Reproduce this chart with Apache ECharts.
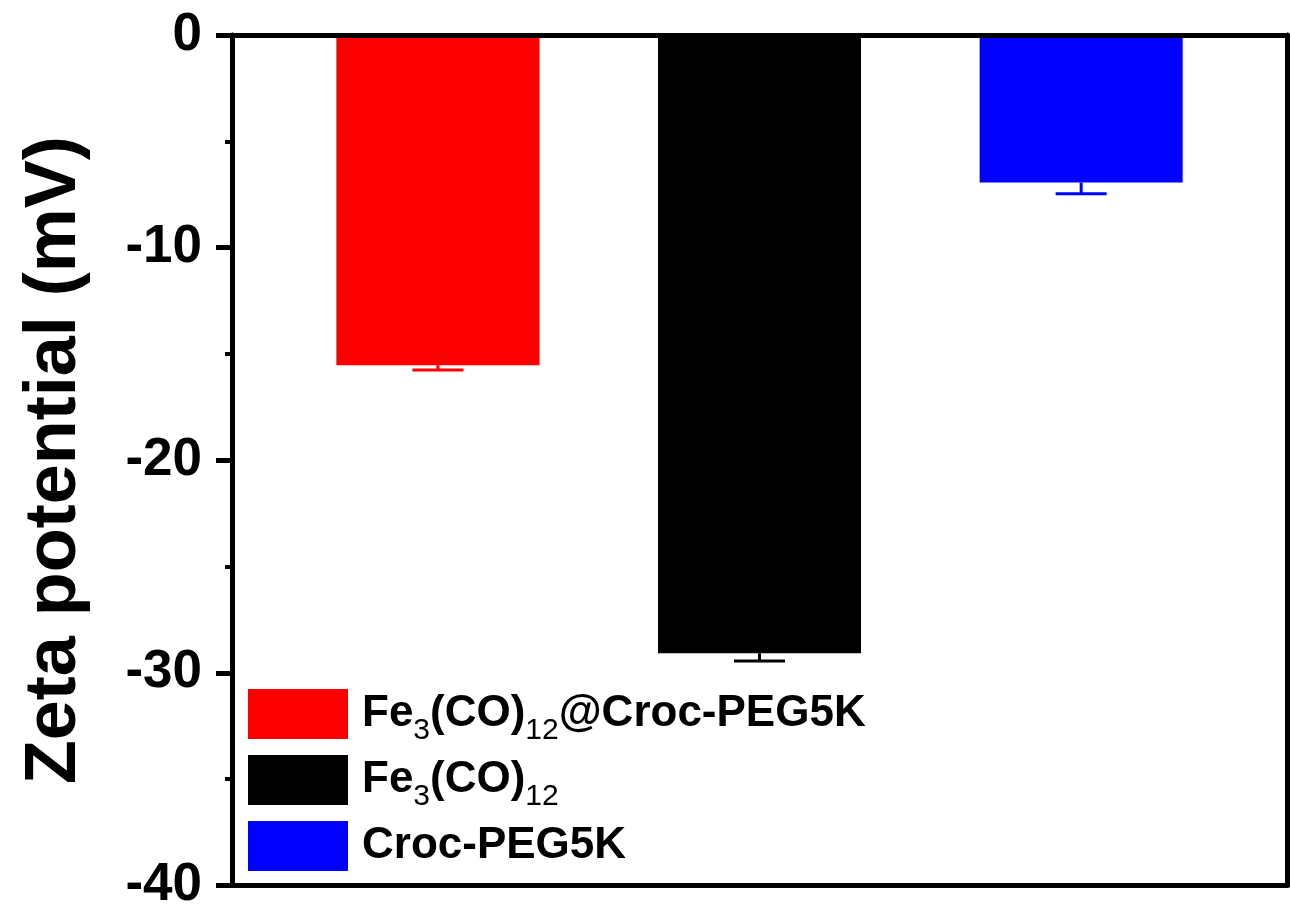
<!DOCTYPE html>
<html><head><meta charset="utf-8">
<script src="https://cdn.jsdelivr.net/npm/echarts@6/dist/echarts.min.js"></script>
<style>html,body{margin:0;padding:0;background:#fff}#c{width:1290px;height:912px}</style>
</head><body><div id="c"></div>
<script>
const categories = ['Fe3(CO)12@Croc-PEG5K', 'Fe3(CO)12', 'Croc-PEG5K'];
const positions = [1, 2, 3];
const values = [-15.53, -29.08, -6.94];
const errors = [0.22, 0.36, 0.53];
const colors = ['#ff0000', '#000000', '#0000ff'];
const yTicks = [-40, -30, -20, -10, 0];
const yName = 'Zeta potential (mV)';

const FONT = 'Liberation Sans';
const chart = echarts.init(document.getElementById('c'), null, {renderer: 'canvas'});

function richName(name) {
  // subscript digits following "e" (Fe) or ")" in chemical formulas
  let out = '{g| }';
  const re = /([e\)])(\d+)/g;
  let last = 0, m;
  while ((m = re.exec(name)) !== null) {
    const end = m.index + 1;
    out += '{m|' + name.slice(last, end) + '}{s|' + m[2] + '}';
    last = end + m[2].length;
  }
  if (last < name.length) out += '{m|' + name.slice(last) + '}';
  return out;
}

const barSeries = categories.map((name, i) => ({
  type: 'bar',
  name: name,
  data: [[positions[i], values[i]]],
  barWidth: 203,
  barGap: '-100%',
  itemStyle: {color: colors[i]},
  z: 2
}));

const errSeries = {
  type: 'custom',
  silent: true,
  z: 3,
  data: positions.map((p, i) => [p, values[i], errors[i], i]),
  encode: {x: 0, y: 1},
  renderItem: function (params, api) {
    const x = api.value(0), v = api.value(1), e = api.value(2), idx = api.value(3);
    const top = api.coord([x, v]);
    const bot = api.coord([x, v - e]);
    const half = 25.5;
    const c = colors[idx];
    return {
      type: 'group',
      children: [
        {type: 'line', shape: {x1: top[0], y1: top[1], x2: bot[0], y2: bot[1]}, style: {stroke: c, lineWidth: 3}},
        {type: 'line', shape: {x1: bot[0] - half, y1: bot[1], x2: bot[0] + half, y2: bot[1]}, style: {stroke: c, lineWidth: 3}}
      ]
    };
  }
};

const frameAxisBase = {
  type: 'value', min: 0.36, max: 3.64,
  axisLine: {show: true, onZero: false, lineStyle: {color: '#000', width: 5}},
  axisTick: {show: false}, axisLabel: {show: false}, splitLine: {show: false}, z: 5
};

const option = {
  backgroundColor: '#ffffff',
  animation: false,
  grid: {left: 232, right: 3, top: 35, bottom: 25, containLabel: false},
  xAxis: [
    Object.assign({}, frameAxisBase, {position: 'bottom'}),
    Object.assign({}, frameAxisBase, {position: 'top'})
  ],
  yAxis: [
    {
      type: 'value', position: 'left',
      min: yTicks[0], max: yTicks[yTicks.length - 1], interval: yTicks[1] - yTicks[0],
      name: yName, nameLocation: 'middle', nameGap: 141,
      nameTextStyle: {fontFamily: FONT, fontWeight: 'bold', fontSize: 72, color: '#000'},
      axisLine: {show: true, onZero: false, lineStyle: {color: '#000', width: 5}},
      axisTick: {show: true, inside: false, length: 16, lineStyle: {color: '#000', width: 5}},
      minorTick: {show: true, splitNumber: 2, length: 7, lineStyle: {color: '#000', width: 4}},
      axisLabel: {fontFamily: FONT, fontWeight: 'bold', fontSize: 53, color: '#000', margin: 30},
      splitLine: {show: false}, minorSplitLine: {show: false},
      z: 5
    },
    {
      type: 'value', position: 'right',
      min: yTicks[0], max: yTicks[yTicks.length - 1], interval: yTicks[1] - yTicks[0],
      axisLine: {show: true, onZero: false, lineStyle: {color: '#000', width: 5}},
      axisTick: {show: false}, axisLabel: {show: false}, splitLine: {show: false}, z: 5
    }
  ],
  legend: {
    orient: 'vertical', left: 243, top: 677,
    itemWidth: 100, itemHeight: 50, itemGap: 2,
    icon: 'rect', selectedMode: false,
    data: categories,
    formatter: richName,
    textStyle: {
      color: '#000', fontFamily: FONT, fontWeight: 'bold', fontSize: 44,
      rich: {
        g: {width: 9, fontSize: 30, lineHeight: 10, padding: [34, 0, 0, 0]},
        m: {fontFamily: FONT, fontWeight: 'bold', fontSize: 44, lineHeight: 44, color: '#000'},
        s: {fontFamily: FONT, fontWeight: 'normal', fontSize: 30, lineHeight: 10, padding: [34, 0, 0, 0], color: '#000'}
      }
    }
  },
  series: barSeries.concat([errSeries])
};
chart.setOption(option);
</script>
</body></html>
